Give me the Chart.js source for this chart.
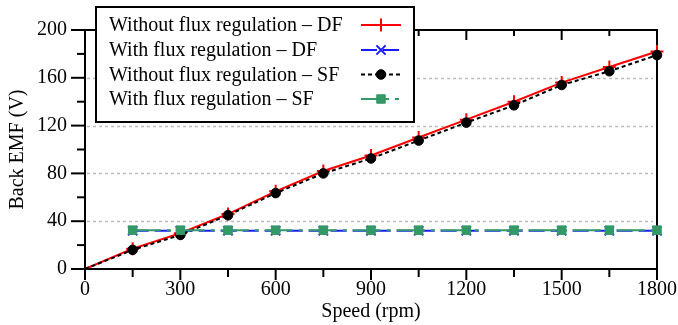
<!DOCTYPE html>
<html>
<head>
<meta charset="utf-8">
<script src="https://cdn.jsdelivr.net/npm/chart.js@4/dist/chart.umd.min.js"></script>
<style>
  html, body { margin: 0; padding: 0; background: #fff; }
  #wrap { width: 678px; height: 325px; }
</style>
</head>
<body>
<div id="wrap"><canvas id="c" width="678" height="325"></canvas></div>
<script>
// Back EMF versus rotor speed, with and without flux regulation (DF / SF machines)
const speedRpm      = [0, 150, 300, 450, 600, 750, 900, 1050, 1200, 1350, 1500, 1650, 1800];
const dfNoRegEmf    = [0, 17, 30, 46, 65, 82, 95, 110, 125, 140, 156, 169, 182];
const sfNoRegEmf    = [0, 16, 28.5, 45, 63.5, 80, 92.5, 107.5, 122.5, 137, 154, 165.5, 179];
const regSpeedRpm   = [150, 300, 450, 600, 750, 900, 1050, 1200, 1350, 1500, 1650, 1800];
const dfRegEmf      = [32, 32, 32, 32, 32, 32, 32, 32, 32, 32, 32, 32];
const sfRegEmf      = [32.5, 32.5, 32.5, 32.5, 32.5, 32.5, 32.5, 32.5, 32.5, 32.5, 32.5, 32.5];
const seriesNames   = [
  'Without flux regulation \u2013 DF',
  'With flux regulation \u2013 DF',
  'Without flux regulation \u2013 SF',
  'With flux regulation \u2013 SF'
];
const xTickStep = 300, xMinorStep = 150;
const yTickStep = 40, yMinorStep = 20;

const FONT = 'Liberation Serif, Times New Roman, serif';
const pts = (xs, ys) => xs.map((x, i) => ({ x, y: ys[i] }));

// hide the marker on the origin point of the no-regulation curves
const hideOrigin = size => ctx => (ctx.raw && ctx.raw.x === 0 ? 0 : size);

const datasets = [
  {
    label: seriesNames[0], data: pts(speedRpm, dfNoRegEmf),
    borderColor: '#ff0000', backgroundColor: '#ff0000', borderWidth: 2,
    pointStyle: 'cross', pointRadius: hideOrigin(6.5), pointBorderWidth: 2,
    markerSize: 6.5, order: 4
  },
  {
    label: seriesNames[1], data: pts(regSpeedRpm, dfRegEmf),
    borderColor: '#1a1aff', backgroundColor: '#1a1aff', borderWidth: 2, borderDash: [16, 6],
    pointStyle: 'crossRot', pointRadius: 6.5, pointBorderWidth: 2,
    markerSize: 6.5, order: 3
  },
  {
    label: seriesNames[2], data: pts(speedRpm, sfNoRegEmf),
    borderColor: '#000000', backgroundColor: '#000000', borderWidth: 2, borderDash: [4, 3],
    pointStyle: 'circle', pointRadius: hideOrigin(4.8), pointBorderWidth: 1,
    markerSize: 4.8, order: 2
  },
  {
    label: seriesNames[3], data: pts(regSpeedRpm, sfRegEmf),
    borderColor: '#339966', backgroundColor: '#339966', borderWidth: 2, borderDash: [28, 6, 4, 6],
    pointStyle: 'rect', pointRadius: 6, pointBorderWidth: 1,
    markerSize: 6, order: 1
  }
];
datasets.forEach(d => { d.clip = false; d.fill = false; d.tension = 0; d.pointBorderColor = d.borderColor; d.pointBackgroundColor = d.borderColor; });

// frame, dotted grid lines and major/minor tick marks
const framePlugin = {
  id: 'frame',
  beforeDatasetsDraw(chart) {
    const { ctx, chartArea: a, scales: { x, y } } = chart;
    ctx.save();
    // horizontal dotted grid
    ctx.strokeStyle = '#bdbdbd';
    ctx.lineWidth = 1.5;
    ctx.setLineDash([3, 3]);
    for (let v = y.min + yTickStep; v < y.max; v += yTickStep) {
      const py = Math.round(y.getPixelForValue(v)) + 0.5;
      ctx.beginPath(); ctx.moveTo(a.left + 2, py); ctx.lineTo(a.right - 4, py); ctx.stroke();
    }
    ctx.setLineDash([]);
    ctx.strokeStyle = '#000';
    ctx.lineWidth = 2;
    // y ticks (outward on the left)
    for (let v = y.min; v <= y.max; v += yMinorStep) {
      const major = v % yTickStep === 0;
      const py = y.getPixelForValue(v);
      ctx.beginPath(); ctx.moveTo(a.left - (major ? 14 : 8), py); ctx.lineTo(a.left, py); ctx.stroke();
    }
    // x ticks (outward at bottom, inward at top)
    for (let v = x.min; v <= x.max; v += xMinorStep) {
      const major = v % xTickStep === 0;
      const px = x.getPixelForValue(v);
      ctx.beginPath(); ctx.moveTo(px, a.bottom); ctx.lineTo(px, a.bottom + (major ? 11 : 8)); ctx.stroke();
      ctx.beginPath(); ctx.moveTo(px, a.top); ctx.lineTo(px, a.top + (major ? 10 : 6)); ctx.stroke();
    }
    ctx.strokeRect(a.left, a.top, a.right - a.left, a.bottom - a.top);
    ctx.restore();
  }
};

// boxed legend: text on the left, line sample with marker on the right
const legendPlugin = {
  id: 'boxLegend',
  afterDraw(chart) {
    const { ctx } = chart;
    const box = { x: 96, y: 7, w: 318, h: 115 };
    const rowY = [25, 50, 74.5, 99];
    ctx.save();
    ctx.fillStyle = '#fff';
    ctx.fillRect(box.x, box.y, box.w, box.h);
    ctx.strokeStyle = '#000';
    ctx.lineWidth = 2;
    ctx.strokeRect(box.x, box.y, box.w, box.h);
    ctx.font = '20px ' + FONT;
    ctx.textBaseline = 'middle';
    ctx.textAlign = 'left';
    chart.data.datasets.forEach((d, i) => {
      const ry = rowY[i];
      ctx.fillStyle = '#000';
      ctx.fillText(d.label, 109, ry + 1);
      ctx.strokeStyle = d.borderColor;
      ctx.lineWidth = d.borderWidth;
      ctx.setLineDash(d.borderDash || []);
      ctx.beginPath(); ctx.moveTo(361, ry); ctx.lineTo(401, ry); ctx.stroke();
      ctx.setLineDash([]);
      ctx.fillStyle = d.borderColor;
      ctx.lineWidth = d.pointBorderWidth;
      Chart.helpers.drawPoint(ctx, { pointStyle: d.pointStyle, radius: d.markerSize, rotation: 0, borderWidth: d.pointBorderWidth }, 381, ry);
    });
    ctx.restore();
  }
};

new Chart(document.getElementById('c'), {
  type: 'line',
  data: { datasets },
  options: {
    responsive: false,
    animation: false,
    events: [],
    layout: { padding: { left: 0, right: 21, top: 30, bottom: 0 } },
    plugins: { legend: { display: false }, tooltip: { enabled: false } },
    scales: {
      x: {
        type: 'linear', min: 0, max: 1800,
        afterFit: s => { s.height = 56; s.paddingRight = 0; s.paddingLeft = 0; },
        ticks: { stepSize: xTickStep, color: '#000', font: { family: FONT, size: 20 }, padding: 9, maxRotation: 0, callback: v => String(v) },
        grid: { display: false, drawTicks: false },
        border: { display: false },
        title: { display: true, text: 'Speed (rpm)', color: '#000', font: { family: FONT, size: 20 }, padding: { top: 0, bottom: 1 } }
      },
      y: {
        type: 'linear', min: 0, max: 200,
        afterFit: s => { s.width = 85; s.paddingTop = 0; s.paddingBottom = 0; },
        ticks: { stepSize: yTickStep, color: '#000', font: { family: FONT, size: 20 }, padding: 18, callback: v => String(v) },
        grid: { display: false, drawTicks: false },
        border: { display: false },
        title: { display: true, text: 'Back EMF (V)', color: '#000', font: { family: FONT, size: 20 }, padding: { top: 6, bottom: 0 } }
      }
    }
  },
  plugins: [framePlugin, legendPlugin]
});
</script>
</body>
</html>
